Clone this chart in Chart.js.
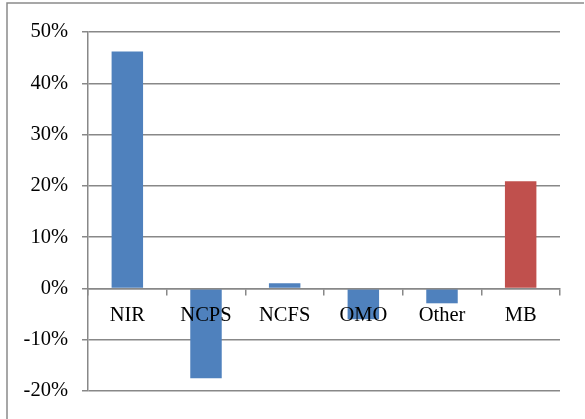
<!DOCTYPE html>
<html>
<head>
<meta charset="utf-8">
<script src="https://cdn.jsdelivr.net/npm/chart.js@4/dist/chart.umd.min.js"></script>
<style>
  html, body { margin: 0; padding: 0; background: #fff; overflow: hidden; }
  #c { display: block; }
</style>
</head>
<body>
<canvas id="c" width="585" height="419"></canvas>
<script>
// Data
const categories = ["NIR", "NCPS", "NCFS", "OMO", "Other", "MB"];
const values = [46.2, -17.5, 1.0, -6.0, -2.9, 20.9];
const yTicks = [-20, -10, 0, 10, 20, 30, 40, 50];

// Styles
const BLUE = "#4F81BD";
const RED = "#C0504D";
const highlighted = "MB";
const GRID = "#888888";
const FONT = { family: "'Liberation Serif', 'Times New Roman', serif", size: 20.5 };

// Outer chart frame (left and top edges visible; right/bottom are outside the picture)
const framePlugin = {
  id: "frame",
  beforeDraw(chart) {
    const ctx = chart.ctx;
    ctx.save();
    ctx.strokeStyle = "#8a8a8a";
    ctx.lineWidth = 1.5;
    ctx.beginPath();
    ctx.moveTo(7, chart.height + 5);
    ctx.lineTo(7, 3);
    ctx.lineTo(chart.width - 1, 3);
    ctx.stroke();
    ctx.restore();
  }
};

new Chart(document.getElementById("c"), {
  type: "bar",
  data: {
    labels: categories,
    datasets: [{
      data: values,
      backgroundColor: categories.map(c => c === highlighted ? RED : BLUE),
      borderWidth: 0,
      categoryPercentage: 1.0,
      barPercentage: 0.4
    }]
  },
  plugins: [framePlugin],
  options: {
    responsive: false,
    animation: false,
    devicePixelRatio: 1,
    layout: { padding: { left: 0, top: 32, right: 25, bottom: 28 } },
    plugins: { legend: { display: false }, tooltip: { enabled: false } },
    scales: {
      x: {
        position: { y: 0 },
        offset: true,
        grid: { display: true, drawOnChartArea: false, offset: true, tickLength: 6, color: GRID, lineWidth: 1.5, z: 1 },
        border: { display: true, color: GRID, width: 1.5, z: 1 },
        ticks: { color: "#000", font: FONT, padding: 9, maxRotation: 0, autoSkip: false, z: 1 }
      },
      y: {
        min: yTicks[0],
        max: yTicks[yTicks.length - 1],
        afterBuildTicks: s => { s.ticks = yTicks.map(v => ({ value: v })); },
        afterFit: s => { s.width = 88; },
        grid: { color: GRID, lineWidth: 1.5, tickLength: 6 },
        border: { display: true, color: GRID, width: 1.5 },
        ticks: { color: "#000", font: FONT, padding: 14, callback: v => v + "%" }
      }
    }
  }
});
</script>
</body>
</html>
